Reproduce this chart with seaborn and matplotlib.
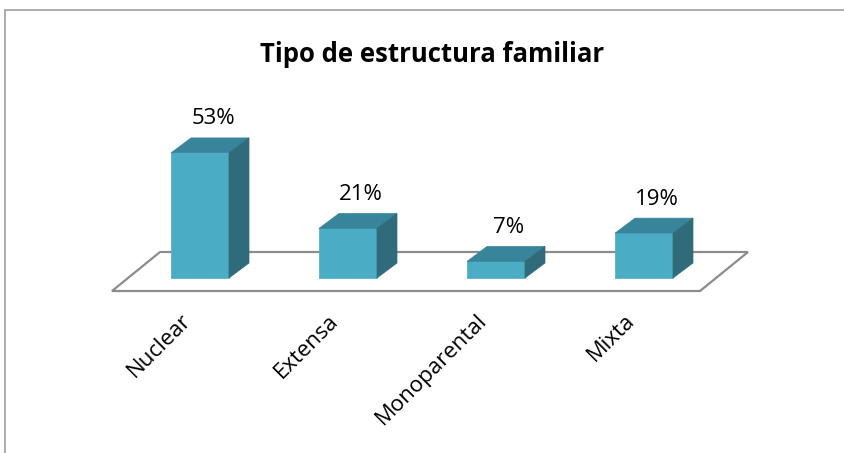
import matplotlib
matplotlib.use("Agg")
import matplotlib.pyplot as plt
import numpy as np
import pandas as pd
import seaborn as sns
from matplotlib.patches import Polygon, Rectangle

## Data
categories = ["Nuclear", "Extensa", "Monoparental", "Mixta"]
values = [53, 21, 7, 19]
value_labels = ["53%", "21%", "7%", "19%"]

## Style
FRONT = "#4bacc6"
TOP = "#38849a"
SIDE = "#2f6b7a"
FLOOR_EDGE = "#8c8c8c"

W, H = 844, 453
PX_PER_CAT = 148.0
PX_PER_PCT = 2.36
X0_PX = 200.0        # pixel x of first category
BASE_PX = 278.0      # pixel y (from top) of bar base

sns.set_theme(style="white")
plt.rcParams["font.family"] = ["Open Sans", "DejaVu Sans"]

fig = plt.figure(figsize=(W / 100, H / 100), dpi=100)
ax = fig.add_axes([0, 0, 1, 1])

df = pd.DataFrame({"cat": categories, "val": values})
sns.barplot(data=df, x="cat", y="val", color=FRONT, saturation=1,
            width=58 / PX_PER_CAT, ax=ax, zorder=3)

ax.set_xlim(-X0_PX / PX_PER_CAT, (W - X0_PX) / PX_PER_CAT)
ax.set_ylim(-(H - BASE_PX) / PX_PER_PCT, BASE_PX / PX_PER_PCT)
ax.axis("off")

# depth offset of the 3D look
dx = 20 / PX_PER_CAT
dy = 15 / PX_PER_PCT

def px(xp, yp):
    return ((xp - X0_PX) / PX_PER_CAT, (BASE_PX - yp) / PX_PER_PCT)

# floor
floor = Polygon([px(112, 291), px(160, 252), px(748, 252), px(700, 291)],
                closed=True, facecolor="white", edgecolor=FLOOR_EDGE,
                linewidth=1.6, zorder=1)
ax.add_patch(floor)

for bar, lab in zip(ax.patches, value_labels):
    if not isinstance(bar, Rectangle) or bar is floor:
        continue
    x0 = bar.get_x()
    w = bar.get_width()
    h = bar.get_height()
    bar.set_edgecolor(FRONT)
    bar.set_linewidth(0.5)
    top = Polygon([(x0, h), (x0 + dx, h + dy), (x0 + w + dx, h + dy), (x0 + w, h)],
                  closed=True, facecolor=TOP, edgecolor=TOP, lw=0.5, zorder=3)
    side = Polygon([(x0 + w, 0), (x0 + w + dx, dy), (x0 + w + dx, h + dy), (x0 + w, h)],
                   closed=True, facecolor=SIDE, edgecolor=SIDE, lw=0.5, zorder=3)
    ax.add_patch(top)
    ax.add_patch(side)
    ax.text(x0 + w / 2 + 13 / PX_PER_CAT, h + dy + 19 / PX_PER_PCT, lab,
            ha="center", va="center", fontsize=16, color="black", zorder=4)

# category labels, rotated 45 degrees
for i, cat in enumerate(categories):
    xa, ya = px(X0_PX + i * PX_PER_CAT - 20, 310)
    ax.text(xa, ya, cat, rotation=45, ha="right", va="top",
            rotation_mode="anchor", fontsize=16, color="black")

fig.text(432 / W, 1 - 55 / H, "Tipo de estructura familiar", ha="center",
         va="center", fontsize=18.5, fontweight="bold", color="black")

# chart frame (runs off the right and bottom)
fig.add_artist(plt.Line2D([5 / W, 5 / W], [1 - 10 / H, 0], color="#a0a0a0", lw=1.2))
fig.add_artist(plt.Line2D([5 / W, 1], [1 - 10 / H, 1 - 10 / H], color="#a0a0a0", lw=1.2))

fig.savefig("out.png", dpi=100)
